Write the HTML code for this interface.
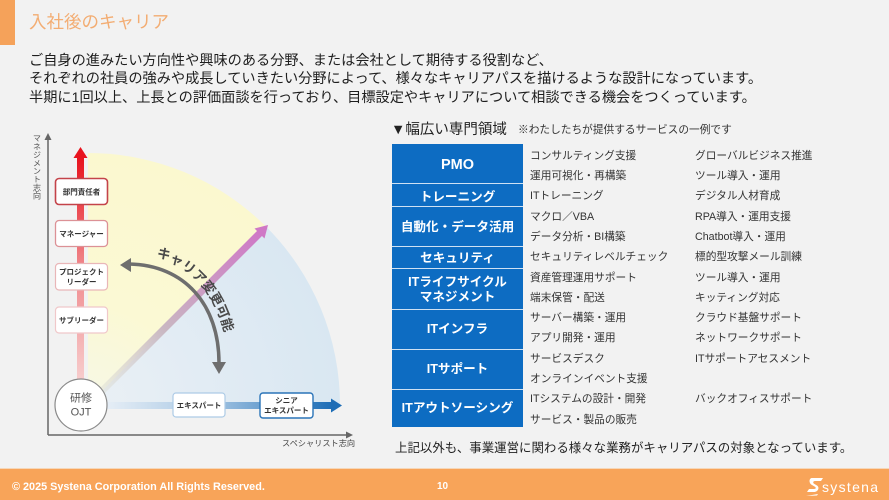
<!DOCTYPE html>
<html><head><meta charset="utf-8">
<style>
html,body{margin:0;padding:0;}
body{width:889px;height:500px;position:relative;overflow:hidden;background:#f2f2f2;font-family:"Liberation Sans","Noto Sans CJK JP",sans-serif;color:#222;}
.a{position:absolute;white-space:nowrap;}
.p{left:29px;font-size:14.2px;line-height:18.5px;color:#1e1e1e;}
.t{font-size:10.7px;line-height:20px;height:20px;color:#333;}
.c1{left:530px;}
.c2{left:695px;}
.cell{position:absolute;left:392px;width:131px;color:#fff;font-weight:bold;text-align:center;font-size:12.6px;}
.div{position:absolute;left:392px;width:131px;height:1.5px;background:#cfe1f3;}
</style></head><body>

<div class="a" style="left:0;top:0;width:15px;height:45px;background:#f5a25a;"></div>
<div class="a" style="left:29px;top:10px;font-size:17.5px;line-height:24px;color:#f3ad73;">入社後のキャリア</div>

<div class="a p" style="top:51.5px;">ご自身の進みたい方向性や興味のある分野、または会社として期待する役割など、</div>
<div class="a p" style="top:70px;">それぞれの社員の強みや成長していきたい分野によって、様々なキャリアパスを描けるような設計になっています。</div>
<div class="a p" style="top:88.5px;">半期に1回以上、上長との評価面談を行っており、目標設定やキャリアについて相談できる機会をつくっています。</div>

<!-- Chart -->
<svg class="a" style="left:0;top:0;" width="889" height="500" viewBox="0 0 889 500">
<defs>
<radialGradient id="gb" cx="88" cy="405" r="252" gradientUnits="userSpaceOnUse">
<stop offset="0" stop-color="#eaf0f5"/><stop offset="1" stop-color="#d9e7f2"/>
</radialGradient>
<radialGradient id="gy" cx="88" cy="405" r="252" gradientUnits="userSpaceOnUse">
<stop offset="0" stop-color="#f6f7e6"/><stop offset="0.4" stop-color="#fbf9d4"/><stop offset="1" stop-color="#fbf8cf"/>
</radialGradient>
<linearGradient id="gr" x1="0" y1="158" x2="0" y2="380" gradientUnits="userSpaceOnUse">
<stop offset="0" stop-color="#e8141e"/><stop offset="0.5" stop-color="#f08a8e"/><stop offset="1" stop-color="#f7cccc"/>
</linearGradient>
<linearGradient id="gh" x1="106" y1="0" x2="332" y2="0" gradientUnits="userSpaceOnUse">
<stop offset="0" stop-color="#e6eef6"/><stop offset="0.45" stop-color="#a9c8e4"/><stop offset="1" stop-color="#1d6db6"/>
</linearGradient>
<linearGradient id="gd" x1="100" y1="393" x2="260" y2="233" gradientUnits="userSpaceOnUse">
<stop offset="0" stop-color="#dfe2d8" stop-opacity="0.5"/><stop offset="0.4" stop-color="#c9b7c2"/><stop offset="1" stop-color="#cf78c6"/>
</linearGradient>
</defs>
<path d="M88 405 L88 153 A252 252 0 0 1 266.2 226.8 Z" fill="url(#gy)"/>
<path d="M88 405 L266.2 226.8 A252 252 0 0 1 340 405 Z" fill="url(#gb)"/>

<!-- axes -->
<line x1="48" y1="435" x2="48" y2="138" stroke="#666" stroke-width="1.5"/>
<polygon points="48,133 44.5,140 51.5,140" fill="#666"/>
<line x1="48" y1="435" x2="347" y2="435" stroke="#666" stroke-width="1.5"/>
<polygon points="353,435 346,431.5 346,438.5" fill="#666"/>
<text x="282" y="446" font-size="8.2" fill="#444" font-family="Liberation Sans, Noto Sans CJK JP, sans-serif">スペシャリスト志向</text>

<!-- diagonal arrow -->
<line x1="100" y1="393" x2="260" y2="233" stroke="url(#gd)" stroke-width="7"/>
<polygon points="268,225 254.5,228.5 264.5,238.5" fill="#cf78c6"/>

<!-- red arrow -->
<rect x="77" y="157" width="7" height="225" fill="url(#gr)"/>
<polygon points="80.5,147 73.5,158 87.5,158" fill="#e8141e"/>

<!-- horizontal arrow -->
<rect x="106" y="402" width="226" height="7" fill="url(#gh)"/>
<polygon points="342,405.5 331,398.5 331,412.5" fill="#1d6db6"/>

<!-- boxes -->
<g font-family="Liberation Sans, Noto Sans CJK JP, sans-serif" font-weight="bold" font-size="7.5" fill="#333" text-anchor="middle">
<rect x="55.5" y="178.5" width="52" height="26" rx="3.5" fill="#fff" stroke="#c4434a" stroke-width="1.6"/>
<text x="81.5" y="194.5">部門責任者</text>
<rect x="55.5" y="220.5" width="52" height="26" rx="3.5" fill="#fff" stroke="#dc9196" stroke-width="1.3"/>
<text x="81.5" y="236.5">マネージャー</text>
<rect x="55.5" y="263.5" width="52" height="26.5" rx="3.5" fill="#fff" stroke="#e9b6b8" stroke-width="1.2"/>
<text x="81.5" y="274.5">プロジェクト</text>
<text x="81.5" y="284.5">リーダー</text>
<rect x="55.5" y="307" width="52" height="26" rx="3.5" fill="#fff" stroke="#f0c8ca" stroke-width="1.2"/>
<text x="81.5" y="323">サブリーダー</text>

<rect x="173" y="393" width="52" height="24" rx="3" fill="#fff" stroke="#adcbe6" stroke-width="1.2"/>
<text x="199" y="408">エキスパート</text>
<rect x="260" y="393" width="53" height="25" rx="3" fill="#fff" stroke="#2a74b8" stroke-width="1.4"/>
<text x="286.5" y="403">シニア</text>
<text x="286.5" y="413">エキスパート</text>
</g>

<!-- circle -->
<circle cx="81" cy="405" r="26" fill="#fff" stroke="#8a8a8a" stroke-width="1.2"/>
<g font-family="Liberation Sans, Noto Sans CJK JP, sans-serif" fill="#555" text-anchor="middle">
<text x="81" y="401.5" font-size="11">研修</text>
<text x="81" y="415.5" font-size="11">OJT</text>
</g>

<!-- curved double arrow -->
<path d="M129 264 C185 265, 219 305, 219 363" fill="none" stroke="#6e6e6e" stroke-width="3.5"/>
<polygon points="120,265 131,258 131,272" fill="#6e6e6e"/>
<polygon points="219,374 212,362 226,362" fill="#6e6e6e"/>

<path id="tp" d="M156 256 C186 266, 213 287, 225 334" fill="none"/>
<text font-family="Liberation Sans, Noto Sans CJK JP, sans-serif" font-weight="bold" font-size="13.5" fill="#4a4a4a"><textPath href="#tp">キャリア変更可能</textPath></text>
</svg>

<div class="a" style="left:31px;top:134px;writing-mode:vertical-rl;font-size:8.2px;line-height:10px;color:#555;">マネジメント志向</div>

<!-- Table header -->
<div class="a" style="left:391px;top:120px;font-size:14.5px;line-height:20px;color:#222;">▼幅広い専門領域</div>
<div class="a" style="left:518px;top:122px;font-size:10.7px;line-height:16px;color:#333;">※わたしたちが提供するサービスの一例です</div>

<!-- Blue column -->
<div class="a" style="left:392px;top:144px;width:131px;height:283px;background:#0d6cc2;"></div>
<div class="div" style="top:182.5px;"></div>
<div class="div" style="top:205.5px;"></div>
<div class="div" style="top:245.5px;"></div>
<div class="div" style="top:267.5px;"></div>
<div class="div" style="top:308.5px;"></div>
<div class="div" style="top:348.5px;"></div>
<div class="div" style="top:388.5px;"></div>

<div class="cell" style="top:155px;line-height:20px;font-size:14.5px;">PMO</div>
<div class="cell" style="top:186.5px;line-height:20px;">トレーニング</div>
<div class="cell" style="top:217px;line-height:20px;">自動化・データ活用</div>
<div class="cell" style="top:248px;line-height:20px;">セキュリティ</div>
<div class="cell" style="top:274.5px;line-height:15px;">ITライフサイクル<br>マネジメント</div>
<div class="cell" style="top:319px;line-height:20px;">ITインフラ</div>
<div class="cell" style="top:359px;line-height:20px;">ITサポート</div>
<div class="cell" style="top:398px;line-height:20px;">ITアウトソーシング</div>

<!-- Table text -->
<div class="a t c1" style="top:145.7px;">コンサルティング支援</div><div class="a t c2" style="top:145.7px;">グローバルビジネス推進</div>
<div class="a t c1" style="top:166px;">運用可視化・再構築</div><div class="a t c2" style="top:166px;">ツール導入・運用</div>
<div class="a t c1" style="top:186.3px;">ITトレーニング</div><div class="a t c2" style="top:186.3px;">デジタル人材育成</div>
<div class="a t c1" style="top:206.6px;">マクロ／VBA</div><div class="a t c2" style="top:206.6px;">RPA導入・運用支援</div>
<div class="a t c1" style="top:226.9px;">データ分析・BI構築</div><div class="a t c2" style="top:226.9px;">Chatbot導入・運用</div>
<div class="a t c1" style="top:247.2px;">セキュリティレベルチェック</div><div class="a t c2" style="top:247.2px;">標的型攻撃メール訓練</div>
<div class="a t c1" style="top:267.5px;">資産管理運用サポート</div><div class="a t c2" style="top:267.5px;">ツール導入・運用</div>
<div class="a t c1" style="top:287.8px;">端末保管・配送</div><div class="a t c2" style="top:287.8px;">キッティング対応</div>
<div class="a t c1" style="top:308.1px;">サーバー構築・運用</div><div class="a t c2" style="top:308.1px;">クラウド基盤サポート</div>
<div class="a t c1" style="top:328.4px;">アプリ開発・運用</div><div class="a t c2" style="top:328.4px;">ネットワークサポート</div>
<div class="a t c1" style="top:348.7px;">サービスデスク</div><div class="a t c2" style="top:348.7px;">ITサポートアセスメント</div>
<div class="a t c1" style="top:369px;">オンラインイベント支援</div>
<div class="a t c1" style="top:389.3px;">ITシステムの設計・開発</div><div class="a t c2" style="top:389.3px;">バックオフィスサポート</div>
<div class="a t c1" style="top:409.6px;">サービス・製品の販売</div>

<div class="a" style="left:395px;top:439px;font-size:12.45px;line-height:18px;color:#222;">上記以外も、事業運営に関わる様々な業務がキャリアパスの対象となっています。</div>

<!-- Footer -->
<div class="a" style="left:0;top:469px;width:889px;height:31px;background:#f8a459;"></div>
<div class="a" style="left:0;top:468px;width:889px;height:1px;background:#f6d7b8;"></div>
<div class="a" style="left:12px;top:479px;font-size:10.85px;line-height:16px;font-weight:bold;color:#fff;">© 2025 Systena Corporation All Rights Reserved.</div>
<div class="a" style="left:437px;top:479px;font-size:10px;line-height:16px;font-weight:bold;color:#fff;">10</div>
<svg class="a" style="left:806px;top:477px;" width="18" height="20" viewBox="0 0 18 20">
<path d="M6 1 L17 1 L15 4 L9 4 C7 4 6.5 6 8.5 7 L11 8.5 C14 10.5 12 15 8 15 L1 15 L3 12 L8 12 C10 12 10.5 10.5 8.5 9.5 L6 8 C2.5 6 3 1 6 1 Z" fill="#fff"/>
<path d="M0 19 L12 17 L11 18.5 Z" fill="#fff"/>
</svg>
<div class="a" style="left:822px;top:478px;font-size:14px;line-height:18px;color:#fff;letter-spacing:1.3px;">systena</div>

</body></html>
